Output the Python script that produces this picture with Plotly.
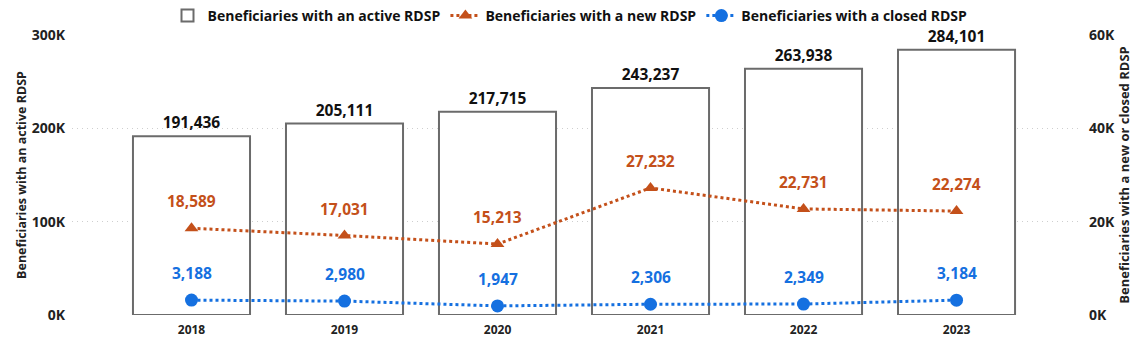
import plotly.graph_objects as go

years = ["2018", "2019", "2020", "2021", "2022", "2023"]
active = [191436, 205111, 217715, 243237, 263938, 284101]
new_rdsp = [18589, 17031, 15213, 27232, 22731, 22274]
closed_rdsp = [3188, 2980, 1947, 2306, 2349, 3184]

FONT = "Open Sans"
ORANGE = "#C4501A"
BLUE = "#1570E0"

def fmt(v):
    return f"{v:,}"

fig = go.Figure()

fig.add_trace(go.Bar(
    x=years, y=active, name="Beneficiaries with an active RDSP",
    marker=dict(color="white", line=dict(color="#6b6b6b", width=2)),
    width=0.765,
    text=[fmt(v) for v in active], textposition="outside",
    textfont=dict(family=FONT, size=15.5, color="#111111", weight="bold"),
    cliponaxis=False,
))

fig.add_trace(go.Scatter(
    x=years, y=new_rdsp, name="Beneficiaries with a new RDSP", yaxis="y2",
    mode="lines+markers",
    line=dict(color=ORANGE, width=3, dash="dot"),
    marker=dict(symbol="triangle-up", size=12, color=ORANGE),
    cliponaxis=False,
))

fig.add_trace(go.Scatter(
    x=years, y=closed_rdsp, name="Beneficiaries with a closed RDSP", yaxis="y2",
    mode="lines+markers",
    line=dict(color=BLUE, width=3, dash="dot"),
    marker=dict(symbol="circle", size=13, color=BLUE),
    cliponaxis=False,
))

# value labels above the line markers (x given as category index)
annotations = []
for vals, color in ((new_rdsp, ORANGE), (closed_rdsp, BLUE)):
    for i, v in enumerate(vals):
        annotations.append(dict(
            x=i, y=v, xref="x", yref="y2", text=fmt(v), showarrow=False,
            yshift=27, font=dict(family=FONT, size=15.5, color=color, weight="bold"),
        ))

fig.update_layout(
    width=1140, height=344,
    margin=dict(l=72, r=60, t=35, b=29, autoexpand=False),
    paper_bgcolor="white", plot_bgcolor="white",
    font=dict(family=FONT, color="#222222"),
    showlegend=True,
    annotations=annotations,
    legend=dict(
        orientation="h", x=0.5, xanchor="center", xref="container",
        y=1.0, yanchor="top", yref="container",
        font=dict(family=FONT, size=14, color="#111111", weight="bold"),
        tracegroupgap=0, bgcolor="rgba(0,0,0,0)",
    ),
    xaxis=dict(
        type="category", range=[-0.781, 5.807],
        showgrid=False, showline=False, ticks="", ticklabelstandoff=6,
        tickfont=dict(family=FONT, size=12, color="#222222", weight="bold"),
    ),
    yaxis=dict(
        range=[0, 300000], tickvals=[0, 100000, 200000, 300000],
        ticktext=["0K", "100K", "200K", "300K"],
        showgrid=True, gridcolor="#cfcfcf", griddash="1px,4px", gridwidth=1,
        zeroline=False, showline=False, ticklabelstandoff=6,
        tickfont=dict(family=FONT, size=14, color="#222222", weight="bold"),
        title=dict(text="Beneficiaries with an active RDSP", standoff=2,
                   font=dict(family=FONT, size=12.5, color="#222222", weight="bold")),
    ),
    yaxis2=dict(
        overlaying="y", side="right",
        range=[0, 60000], tickvals=[0, 20000, 40000, 60000],
        ticktext=["0K", "20K", "40K", "60K"],
        showgrid=False, zeroline=False, showline=False, ticklabelstandoff=8,
        tickfont=dict(family=FONT, size=14, color="#222222", weight="bold"),
        title=dict(text="Beneficiaries with a new or closed RDSP", standoff=5,
                   font=dict(family=FONT, size=13, color="#222222", weight="bold")),
    ),
)

fig.write_html("out.html")
